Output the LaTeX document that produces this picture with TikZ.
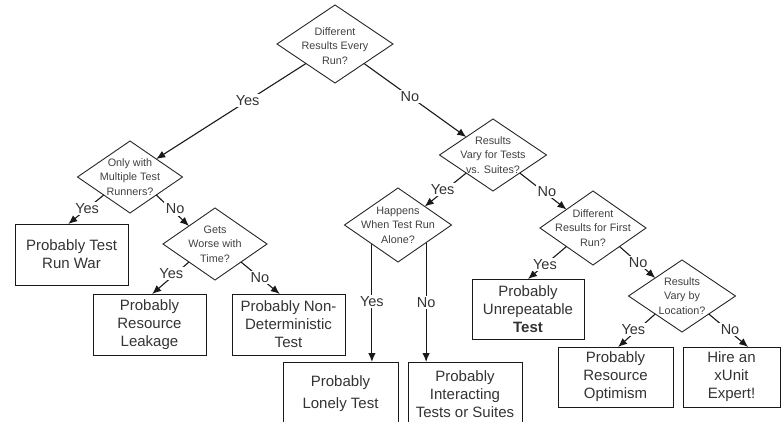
\documentclass[tikz,border=0pt]{standalone}
\usepackage{fontspec}
\setmainfont{Liberation Sans}
\usetikzlibrary{shapes.geometric,arrows.meta}
\begin{document}
\begin{tikzpicture}[x=1pt,y=-1pt,
  decision/.style={draw=black!85, line width=0.9pt, shape=diamond, inner sep=0pt, outer sep=0pt},
  qtext/.style={font=\fontsize{10.8}{14.5}\selectfont, text=black!75, align=center, inner sep=0pt},
  outcome/.style={draw=black!90, line width=1pt, inner sep=0pt, outer sep=0pt,
    font=\fontsize{15}{18}\selectfont, text=black!80, align=center},
  flow/.style={draw=black!90, line width=1.1pt, -{Latex[length=9pt,width=7.5pt]}},
  answer/.style={fill=white, inner sep=1.5pt, font=\fontsize{14.5}{16}\selectfont, text=black!80},
]
\useasboundingbox (0,0) rectangle (784,422);
\clip (0,0) rectangle (784,422);

% decisions
\node[decision, minimum width=116pt, minimum height=78pt,
  label={[qtext,yshift=-2pt]center:{Different\\Results Every\\Run?}}] (d1) at (335,44) {};
\node[decision, minimum width=105pt, minimum height=72pt,
  label={[qtext]center:{Only with\\Multiple Test\\Runners?}}] (d2) at (130,177) {};
\node[decision, minimum width=107pt, minimum height=72pt,
  label={[qtext]center:{Results\\Vary for Tests\\vs. Suites?}}] (d3) at (493,155) {};
\node[decision, minimum width=104pt, minimum height=72pt,
  label={[qtext]center:{Gets\\Worse with\\Time?}}] (d4) at (215,244) {};
\node[decision, minimum width=107pt, minimum height=74pt,
  label={[qtext]center:{Happens\\When Test Run\\Alone?}}] (d5) at (398,225) {};
\node[decision, minimum width=106pt, minimum height=74pt,
  label={[qtext]center:{Different\\Results for First\\Run?}}] (d6) at (593,228) {};
\node[decision, minimum width=107pt, minimum height=72pt,
  label={[qtext]center:{Results\\Vary by\\Location?}}] (d7) at (682,296) {};

% outcomes
\node[outcome, minimum width=113pt, minimum height=61pt] (b1) at (71.5,254.5) {Probably Test\\Run War};
\node[outcome, minimum width=113pt, minimum height=61pt] (b2) at (149.5,324.5) {Probably\\Resource\\Leakage};
\node[outcome, minimum width=113pt, minimum height=61pt] (b3) at (288.5,324.5) {Probably Non-\\Deterministic\\Test};
\node[outcome, minimum width=115pt, minimum height=64pt] (b4) at (340.5,394) {Probably\\[4pt]Lonely Test};
\node[outcome, minimum width=114pt, minimum height=64pt] (b5) at (465,394) {Probably\\Interacting\\Tests or Suites};
\node[outcome, minimum width=112pt, minimum height=60pt] (b6) at (528,309) {Probably\\Unrepeatable\\\textbf{Test}};
\node[outcome, minimum width=115pt, minimum height=60pt] (b7) at (615.5,377) {Probably\\Resource\\Optimism};
\node[outcome, minimum width=97pt, minimum height=60pt] (b8) at (731.5,377) {Hire an\\xUnit\\Expert!};

% connectors
\draw[flow] (d1.south west) -- node[answer,pos=.39]{Yes} (d2.north east);
\draw[flow] (d1.south east) -- node[answer,pos=.45]{No} (d3.north west);
\draw[flow] (d2.south west) -- node[answer,pos=.47]{Yes} (b1.96);
\draw[flow] (d2.south east) -- node[answer,pos=.58,yshift=4pt]{No} (d4.north west);
\draw[flow] (d4.south west) -- node[answer,pos=.48,yshift=4pt]{Yes} (b2.85);
\draw[flow] (d4.south east) -- node[answer,pos=.49]{No} (b3.106);
\draw[flow] (d3.south west) -- node[answer,pos=.57,yshift=3pt]{Yes} (d5.north east);
\draw[flow] (d3.south east) -- node[answer,pos=.58,yshift=3pt]{No} (d6.north west);
\draw[flow] (d5.216) -- node[answer,pos=.49]{Yes} (d5.216 |- b4.north);
\draw[flow] (d5.328) -- node[answer,pos=.5]{No} (d5.328 |- b5.north);
\draw[flow] (d6.south west) -- node[answer,pos=.56]{Yes} (b6.north);
\draw[flow] (d6.south east) -- node[answer,pos=.52]{No} (d7.north west);
\draw[flow] (d7.south west) -- node[answer,pos=.59,yshift=4pt]{Yes} (b7.85);
\draw[flow] (d7.south east) -- node[answer,pos=.54,yshift=2pt]{No} (b8.61);
\end{tikzpicture}
\end{document}
